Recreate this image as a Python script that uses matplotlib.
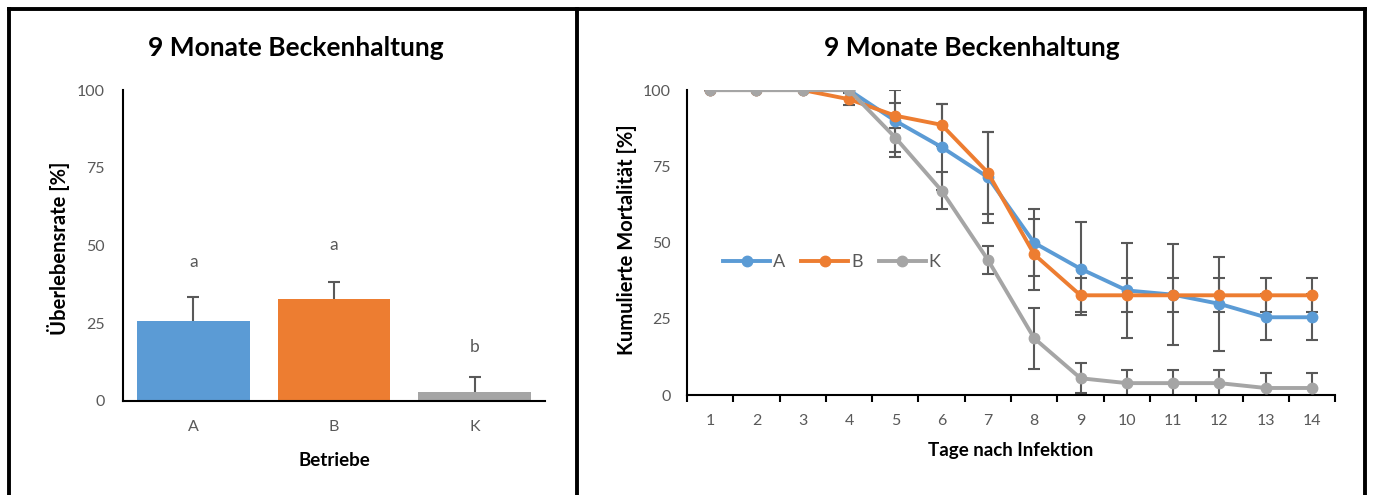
import matplotlib
matplotlib.use("Agg")
import numpy as np
import matplotlib.pyplot as plt
from matplotlib.lines import Line2D

plt.rcParams['font.family'] = ['Lato', 'DejaVu Sans']

# Left chart: survival rate per farm
betriebe = ['A', 'B', 'K']
ueberleben = [25.7, 32.7, 2.8]
ueberleben_err = [7.8, 5.6, 4.9]
buchstaben = ['a', 'a', 'b']
buchstaben_y = [44.7, 50.2, 17.4]

# Right chart: cumulative mortality over days
tage = list(range(1, 15))
mort_a = [100, 100, 100, 100, 89.9, 81.3, 71.4, 49.9, 41.4, 34.3, 32.9, 29.9, 25.5, 25.5]
err_a = [0, 0, 0, 0, 10.1, 14.0, 15.0, 11.0, 15.2, 15.7, 16.6, 15.5, 7.6, 7.6]
mort_b = [100, 100, 100, 97.0, 91.6, 88.6, 72.9, 46.1, 32.7, 32.7, 32.7, 32.7, 32.7, 32.7]
err_b = [0, 0, 0, 2.0, 4.1, 7.0, 13.5, 11.6, 5.6, 5.6, 5.6, 5.6, 5.6, 5.6]
mort_k = [100, 100, 100, 100, 84.4, 67.0, 44.3, 18.6, 5.5, 3.9, 3.9, 3.9, 2.3, 2.3]
err_k = [0, 0, 0, 0, 6.5, 6.0, 4.5, 10.0, 5.0, 4.3, 4.3, 4.3, 4.9, 4.9]

farben = ['#5B9BD5', '#ED7D31', '#A5A5A5']
grau = '#595959'
yticks = [0, 25, 50, 75, 100]

fig = plt.figure(figsize=(13.73, 4.95), dpi=100)

# ---- left bar chart ----
ax1 = fig.add_axes([0.0896, 0.190, 0.3074, 0.628])
ax1.bar(range(3), ueberleben, width=0.8, color=farben, zorder=2)
eb = ax1.errorbar(range(3), ueberleben, yerr=[[0, 0, 0], ueberleben_err], fmt='none',
                  ecolor=grau, elinewidth=1.5, capsize=4, capthick=1.5, zorder=3)
# only the upper cap is shown
for cap in eb[1]:
    if np.allclose(cap.get_ydata(), ueberleben):
        cap.set_visible(False)
for i, (b, by) in enumerate(zip(buchstaben, buchstaben_y)):
    ax1.text(i, by, b, ha='center', va='center', fontsize=12.5, color=grau)
ax1.set_xlim(-0.5, 2.5)
ax1.set_ylim(0, 100)
ax1.set_xticks(range(3))
ax1.set_xticklabels(betriebe)
ax1.set_yticks(yticks)
ax1.tick_params(axis='both', length=0, labelsize=11.5, labelcolor=grau)
ax1.tick_params(axis='y', pad=13)
ax1.tick_params(axis='x', pad=14)
for s in ['top', 'right']:
    ax1.spines[s].set_visible(False)
for s in ['left', 'bottom']:
    ax1.spines[s].set_linewidth(1.5)
ax1.set_ylabel('Überlebensrate [%]', fontsize=14.5, fontweight='bold')
ax1.set_xlabel('Betriebe', fontsize=13.5, fontweight='bold')
ax1.yaxis.set_label_coords(-0.126, 0.49)
ax1.xaxis.set_label_coords(0.5, -0.163)

# ---- right line chart ----
ax2 = fig.add_axes([0.5004, 0.202, 0.4720, 0.616])
for y, e, c, name in [(mort_a, err_a, farben[0], 'A'),
                      (mort_b, err_b, farben[1], 'B'),
                      (mort_k, err_k, farben[2], 'K')]:
    ax2.errorbar(tage, y, yerr=e, fmt='none', ecolor=grau, elinewidth=1.5,
                 capsize=4, capthick=1.5, zorder=2)
    ax2.plot(tage, y, color=c, linewidth=2.8, marker='o', markersize=7.5,
             label=name, zorder=3)
ax2.set_xlim(0.5, 14.5)
ax2.set_ylim(0, 100)
ax2.set_xticks(tage)
ax2.set_xticks([t + 0.5 for t in range(0, 15)], minor=True)
ax2.set_yticks(yticks)
ax2.tick_params(axis='x', which='major', length=0, labelsize=11.5,
                labelcolor=grau, pad=14)
ax2.tick_params(axis='x', which='minor', length=5, width=1.5, direction='out')
ax2.tick_params(axis='y', length=0, labelsize=11.5, labelcolor=grau, pad=12)
for s in ['top', 'right']:
    ax2.spines[s].set_visible(False)
for s in ['left', 'bottom']:
    ax2.spines[s].set_linewidth(1.5)
ax2.set_ylabel('Kumulierte Mortalität [%]', fontsize=14.5, fontweight='bold')
ax2.set_xlabel('Tage nach Infektion', fontsize=13.5, fontweight='bold')
ax2.yaxis.set_label_coords(-0.077, 0.51)
ax2.xaxis.set_label_coords(0.5, -0.154)
leg = ax2.legend(loc='center left', bbox_to_anchor=(0.515, 0.471),
                 bbox_transform=fig.transFigure, ncol=3, frameon=False,
                 fontsize=13, handlelength=2.6, handletextpad=0.15,
                 columnspacing=0.9)
for t in leg.get_texts():
    t.set_color(grau)

# titles
fig.text(0.2157, 0.903, '9 Monate Beckenhaltung', ha='center', va='center',
         fontsize=19, fontweight='bold')
fig.text(0.7080, 0.903, '9 Monate Beckenhaltung', ha='center', va='center',
         fontsize=19, fontweight='bold')

# outer frame lines
rahmen = dict(color='black', linewidth=2.8, transform=fig.transFigure)
fig.add_artist(Line2D([0.0066, 0.9945], [0.9828, 0.9828], **rahmen))
fig.add_artist(Line2D([0.0066, 0.0066], [0.0, 0.9828], **rahmen))
fig.add_artist(Line2D([0.4203, 0.4203], [0.0, 0.9828], **rahmen))
fig.add_artist(Line2D([0.9945, 0.9945], [0.0, 0.9828], **rahmen))

fig.savefig('out.png', dpi=100)
